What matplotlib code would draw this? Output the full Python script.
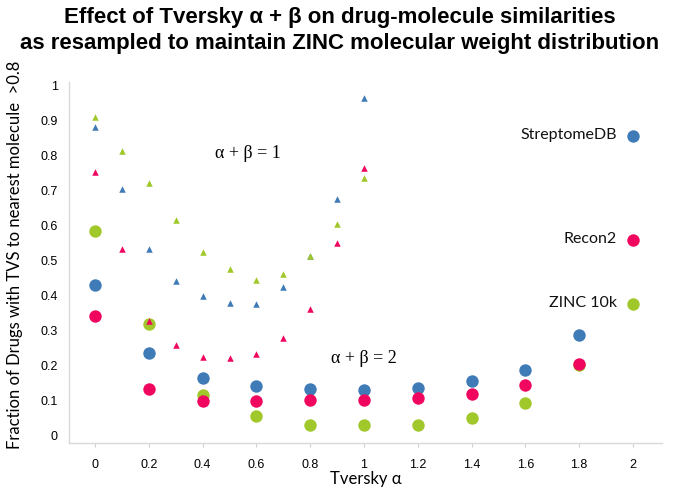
import numpy as np
import matplotlib
matplotlib.use('Agg')
import matplotlib.pyplot as plt

# === Data ===
# alpha + beta = 2 (circles)
alpha_circ = [0, 0.2, 0.4, 0.6, 0.8, 1.0, 1.2, 1.4, 1.6, 1.8]
strep_circ = [0.427, 0.233, 0.162, 0.139, 0.131, 0.128, 0.134, 0.155, 0.185, 0.285]
zinc_circ = [0.581, 0.316, 0.115, 0.053, 0.029, 0.027, 0.029, 0.047, 0.091, 0.198]
recon_circ = [0.340, 0.131, 0.097, 0.096, 0.099, 0.100, 0.105, 0.117, 0.141, 0.202]

# alpha + beta = 1 (triangles)
alpha_tri = [0, 0.1, 0.2, 0.3, 0.4, 0.5, 0.6, 0.7, 0.8, 0.9, 1.0]
strep_tri = [0.878, 0.702, 0.530, 0.440, 0.395, 0.375, 0.372, 0.422, 0.510, 0.672, 0.960]
zinc_tri = [0.905, 0.809, 0.717, 0.614, 0.522, 0.474, 0.442, 0.460, 0.510, 0.600, 0.731]
recon_tri = [0.749, 0.530, 0.324, 0.257, 0.223, 0.219, 0.232, 0.275, 0.359, 0.548, 0.762]

series_names = ['StreptomeDB', 'Recon2', 'ZINC 10k']
legend_y = [0.852, 0.555, 0.373]
colors = {'StreptomeDB': '#3F7BB7', 'Recon2': '#F0055F', 'ZINC 10k': '#A0C82A'}

x_ticks = [0, 0.2, 0.4, 0.6, 0.8, 1, 1.2, 1.4, 1.6, 1.8, 2]
y_ticks = [0, 0.1, 0.2, 0.3, 0.4, 0.5, 0.6, 0.7, 0.8, 0.9, 1]

# === Figure ===
fig = plt.figure(figsize=(6.8, 4.89), dpi=100)
ax = fig.add_axes([69 / 680, 1 - 444 / 489, (662 - 69) / 680, (444 - 83) / 489])

circ_size = 80
tri_size = 22

# draw order: blue, green, red
ax.scatter(alpha_circ, strep_circ, s=circ_size, color=colors['StreptomeDB'], zorder=3, lw=0)
ax.scatter(alpha_circ, zinc_circ, s=circ_size, color=colors['ZINC 10k'], zorder=3, lw=0)
ax.scatter(alpha_circ, recon_circ, s=circ_size, color=colors['Recon2'], zorder=3, lw=0)
ax.scatter(alpha_tri, strep_tri, s=tri_size, marker='^', color=colors['StreptomeDB'], zorder=4, lw=0)
ax.scatter(alpha_tri, zinc_tri, s=tri_size, marker='^', color=colors['ZINC 10k'], zorder=4, lw=0)
ax.scatter(alpha_tri, recon_tri, s=tri_size, marker='^', color=colors['Recon2'], zorder=4, lw=0)

# legend drawn in plot as labelled dots at x = 2
for name, ly in zip(series_names, legend_y):
    ax.scatter([2.0], [ly], s=circ_size, color=colors[name], lw=0, zorder=3)
    ax.text(1.94, ly + 0.005, name, ha='right', va='center', fontsize=11.5,
            family='Lato', color='#111111')

ax.text(0.57, 0.806, 'α + β = 1', ha='center', va='center', fontsize=13,
        family='Liberation Serif')
ax.text(1.0, 0.222, 'α + β = 2', ha='center', va='center', fontsize=13,
        family='Liberation Serif')

ax.set_xlim(-0.097, 2.108)
ax.set_ylim(-0.023, 1.006)
ax.set_xticks(x_ticks)
ax.set_xticklabels([f'{v:g}' for v in x_ticks])
ax.set_yticks(y_ticks)
ax.set_yticklabels([f'{v:g}' for v in y_ticks])
ax.tick_params(axis='x', length=3, color='#d0d0d0', labelsize=9, pad=8)
ax.tick_params(axis='y', length=0, labelsize=9, pad=8)
for lab in ax.get_xticklabels() + ax.get_yticklabels():
    lab.set_family('Liberation Sans')

for side in ['top', 'right']:
    ax.spines[side].set_visible(False)
for side in ['left', 'bottom']:
    ax.spines[side].set_color('#d9d9d9')
    ax.spines[side].set_linewidth(1)

ax.set_xlabel('Tversky α', fontsize=12, family='Lato', labelpad=0)
ax.set_ylabel('Fraction of Drugs with TVS to nearest molecule  >0.8', fontsize=12,
              family='Lato')
ax.yaxis.set_label_coords(-0.078, 0.525)

fig.text(0.5, 0.985, 'Effect of Tversky α + β on drug-molecule similarities\n'
         'as resampled to maintain ZINC molecular weight distribution',
         ha='center', va='top', fontsize=16, fontweight='bold',
         family='Liberation Sans', linespacing=1.3)

fig.savefig('out.png', dpi=100)
